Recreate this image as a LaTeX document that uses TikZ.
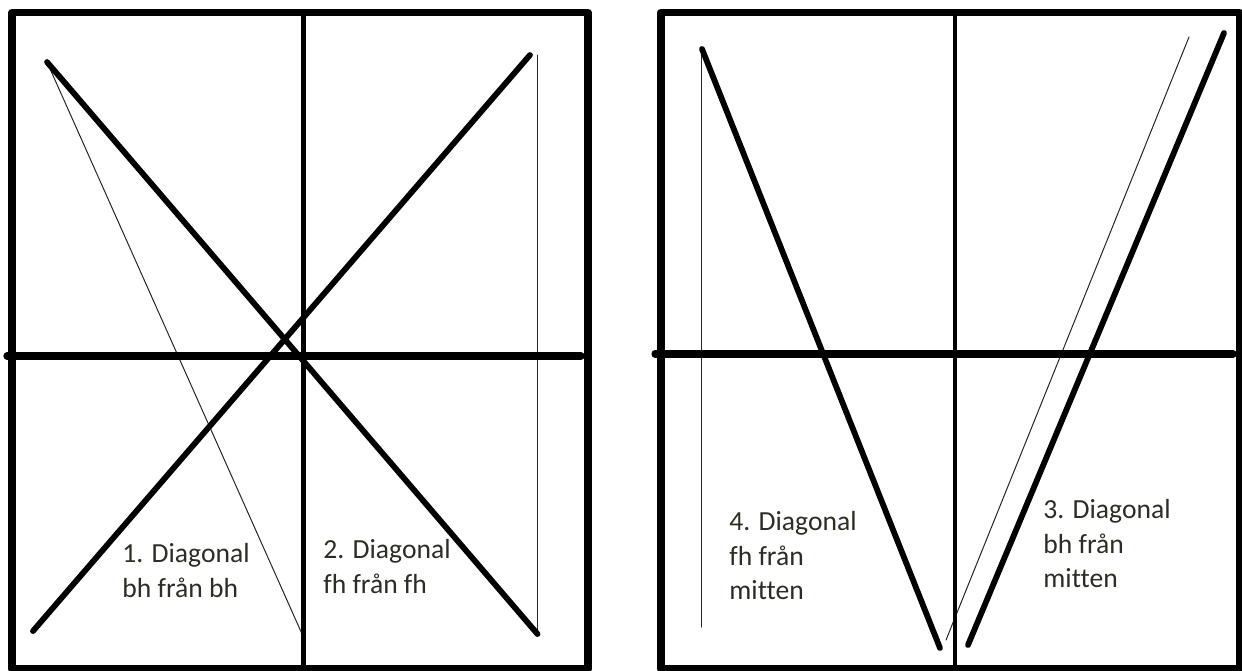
\documentclass[tikz,border=0pt]{standalone}
\usepackage{fontspec}
\setmainfont{Carlito}[Ligatures={NoCommon}]
\usetikzlibrary{calc}
\definecolor{labelgray}{RGB}{45,45,38}

\begin{document}
\begin{tikzpicture}[x=0.5pt,y=-0.5pt,line cap=round,line join=round,
  frame/.style={line width=3.75pt,line cap=butt},
  axisline/.style={line width=3.6pt},
  midline/.style={line width=2.2pt,line cap=butt},
  diag/.style={line width=2.9pt},
  guide/.style={line width=0.5pt,black!85},
  lbl/.style={anchor=north west,align=left,inner sep=0pt,text=labelgray,
    font=\fontsize{13.8}{17.25}\selectfont}]
 \useasboundingbox (0,0) rectangle (1242,670);
 % left window
 \coordinate (lnw) at (12,12.5);   \coordinate (lse) at (588,669);
 \coordinate (lmtop) at (303.5,12.5); \coordinate (lmbot) at (303.5,669);
 \coordinate (lhw) at (7,356);     \coordinate (lhe) at (581,356);
 \coordinate (bhtop) at (47,62);   \coordinate (bhbot) at (537.5,634);
 \coordinate (fhtop) at (530,55);  \coordinate (fhbot) at (33,631);
 \coordinate (lthin) at (302.5,635);
 \coordinate (lvtop) at (537.5,55); \coordinate (lvbot) at (537.5,633);
 \draw[frame] (lnw) rectangle (lse);
 \draw[guide] (bhtop)--(lthin);
 \draw[guide] (lvtop)--(lvbot);
 \draw[diag] (bhtop)--(bhbot);
 \draw[diag] (fhtop)--(fhbot);
 \draw[midline] (lmtop)--(lmbot);
 \draw[axisline] (lhw)--(lhe);
 \node[lbl] (diag1) at (122,543) {1. Diagonal\\bh från bh};
 \node[lbl] (diag2) at (323,539) {2. Diagonal\\fh från fh};
 % right window
 \coordinate (rnw) at (661,12.5);  \coordinate (rse) at (1239.5,669);
 \coordinate (rmtop) at (955,12.5); \coordinate (rmbot) at (955,669);
 \coordinate (rhw) at (655,354);   \coordinate (rhe) at (1233,354);
 \coordinate (mfhtop) at (702,49); \coordinate (mfhbot) at (940,648);
 \coordinate (mbhtop) at (1224,33); \coordinate (mbhbot) at (968,645);
 \coordinate (rvtop) at (701,49);  \coordinate (rvbot) at (701,627);
 \coordinate (rthtop) at (1189,37); \coordinate (rthbot) at (946,640);
 \draw[frame] (rnw) rectangle (rse);
 \draw[guide] (rvtop)--(rvbot);
 \draw[guide] (rthtop)--(rthbot);
 \draw[diag] (mfhtop)--(mfhbot);
 \draw[diag] (mbhtop)--(mbhbot);
 \draw[midline] (rmtop)--(rmbot);
 \draw[axisline] (rhw)--(rhe);
 \node[lbl] (diag4) at (729,511) {4. Diagonal\\fh från\\mitten};
 \node[lbl] (diag3) at (1043,499) {3. Diagonal\\bh från\\mitten};
\end{tikzpicture}
\end{document}
